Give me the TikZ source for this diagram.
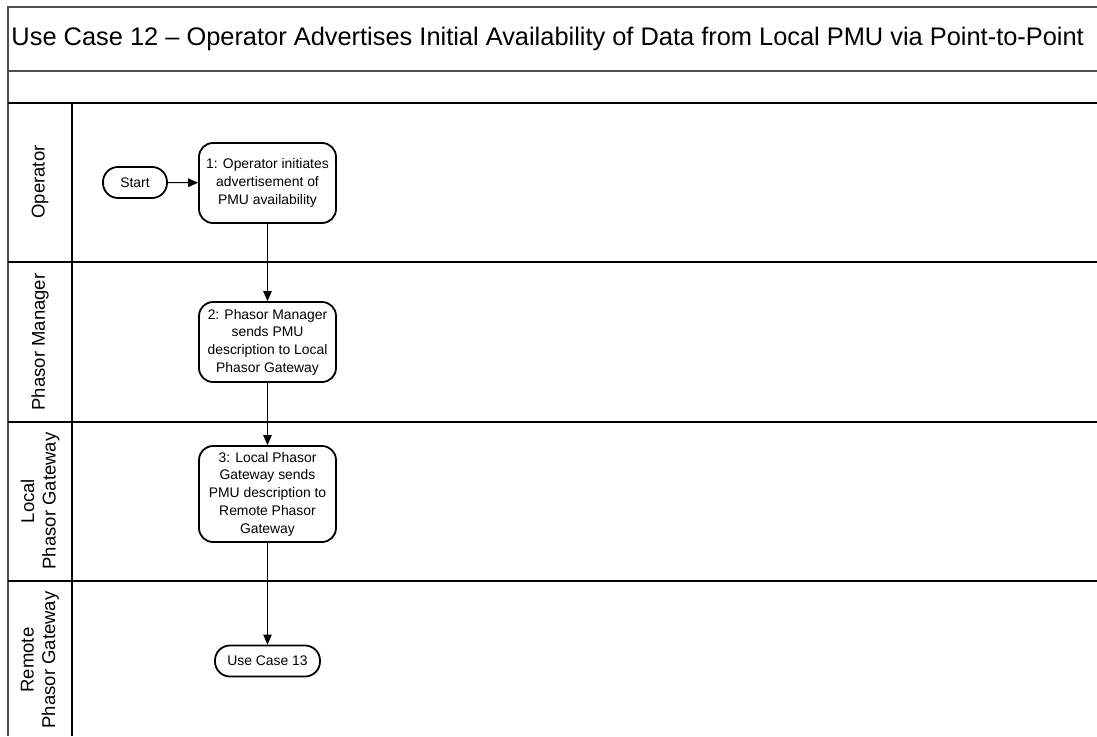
\documentclass[tikz,border=0pt]{standalone}
\usepackage{fontspec}
\setmainfont{Liberation Sans}
\usepackage{tikz}
\usetikzlibrary{arrows.meta,shapes,positioning}

\begin{document}
\begin{tikzpicture}[x=1pt, y=-1pt, ->, >={Triangle[length=10pt,width=8.5pt]}, line width=1pt, inner sep=2pt,
  task/.style={draw, line width=1.8pt, rounded corners=14pt, minimum width=137pt, align=center, font=\fontsize{13.9}{17.7}\selectfont},
  term/.style={draw, line width=1.8pt, rounded corners=15pt, minimum width=64pt, minimum height=31pt, font=\fontsize{13.9}{17.7}\selectfont},
  lane/.style={rotate=90, align=center, font=\fontsize{18.5}{21.5}\selectfont},
  frame/.style={-, line width=1.5pt}]

\useasboundingbox (0,0) rectangle (1097,736);

% pool frame and lanes
\draw[frame, black!70] (1100,7) -- (8,7) -- (8,736);
\draw[frame, black!70] (8,71) -- (1100,71);
\draw[frame] (8,103) -- (1100,103);
\draw[frame] (8,262) -- (1100,262);
\draw[frame] (8,422) -- (1100,422);
\draw[frame] (8,581) -- (1100,581);
\draw[frame] (72,103) -- (72,736);

\node[anchor=west, font=\fontsize{25.4}{30}\selectfont] (title) at (9,39) {Use Case 12 – Operator Advertises Initial Availability of Data from Local PMU via Point-to-Point};

\node[lane] (lop) at (40,182) {Operator};
\node[lane] (lpm) at (40,342) {Phasor Manager};
\node[lane] (llg) at (40,501) {Local\\Phasor Gateway};
\node[lane] (lrg) at (40,660) {Remote\\Phasor Gateway};

\node[term] (start) at (135,182.5) {Start};
\node[task, minimum height=80pt] (s1) at (267.5,183) {1: Operator initiates\\advertisement of\\PMU availability};
\node[task, minimum height=80pt] (s2) at (267.5,342) {2: Phasor Manager\\sends PMU\\description to Local\\Phasor Gateway};
\node[task, minimum height=96pt] (s3) at (267.5,494) {3: Local Phasor\\Gateway sends\\PMU description to\\Remote Phasor\\Gateway};
\node[term, minimum width=105pt] (uc13) at (267.5,661) {Use Case 13};

\path
(start) edge (s1)
(s1) edge (s2)
(s2) edge (s3)
(s3) edge (uc13);
\end{tikzpicture}
\end{document}
